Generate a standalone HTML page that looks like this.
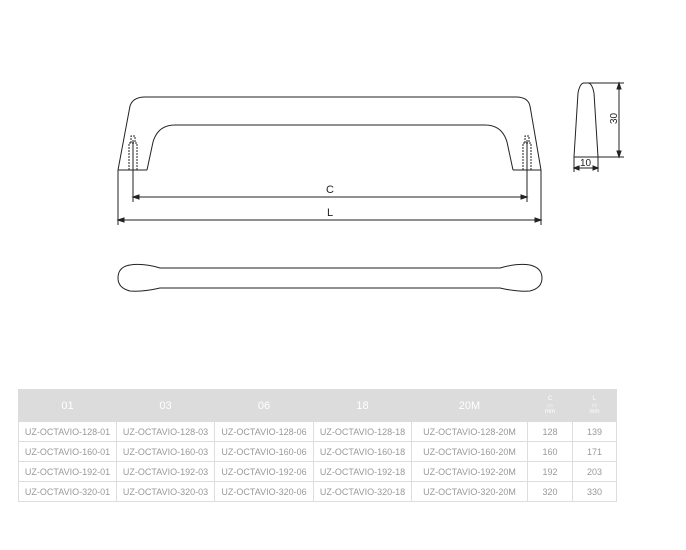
<!DOCTYPE html>
<html><head><style>
body{margin:0;width:686px;height:550px;background:#fff;position:relative;font-family:"Liberation Sans",sans-serif}
svg{position:absolute;left:0;top:0}
table{position:absolute;left:18px;top:389px;border-collapse:collapse;font-size:9px;color:#999}
td,th{border:1px solid #ddd;text-align:center;padding:0;height:19px}
th{background:#dcdcdc;color:#fff;font-weight:normal;font-size:11px;height:31px;border-color:#dcdcdc}
</style></head><body>
<svg width="686" height="550" viewBox="0 0 686 550" fill="none" stroke="#222" stroke-width="1">
<path d="M118 170 L130 106 Q133 97 145 97 L516 97 Q528 97 530 106 L541 170"/>
<path d="M147 170 L153 142 Q158 125 175 125 L485 125 Q502 125 507 142 L513 170"/>
<path d="M118 170 H147 M513 170 H541"/>
<path d="M129 170 V143 M137 170 V143 M129 143 H137 M131 143 V136 H135 V143 M523 170 V143 M531 170 V143 M523 143 H531 M525 143 V136 H529 V143" stroke-dasharray="2 1"/>
<path d="M133 140 V202 M527 140 V202 M118 170 V225 M541 170 V225"/>
<path d="M133 197 H527 M118 220 H541"/>
<path d="M133 197 l6 -2 v4z M527 197 l-6 -2 v4z M118 220 l6 -2 v4z M541 220 l-6 -2 v4z" fill="#222"/>
<text x="326" y="193" font-size="11" fill="#222" stroke="none" font-family="Liberation Sans">C</text>
<text x="327" y="216" font-size="11" fill="#222" stroke="none" font-family="Liberation Sans">L</text>
<path d="M130 265 Q143 263 160 268 L500 268 Q517 263 530 265 Q542 268 542 278 Q542 288 530 291 Q517 292 500 288 L160 288 Q143 292 130 291 Q118 288 118 278 Q118 267 130 265Z"/>
<path d="M574 157 L578 93 Q580 83 584 83 L588 83 Q592 83 594 93 L598 157 Z"/>
<path d="M588 83 H624 M598 157 H624 M619 83 V157 M574 157 V172 M598 157 V172 M574 168 H598"/>
<path d="M619 83 l-2 6 h4z M619 157 l-2 -6 h4z M574 168 l5 -2 v4z M598 168 l-5 -2 v4z" fill="#222"/>
<text x="580" y="166" font-size="10" fill="#222" stroke="none" font-family="Liberation Sans">10</text>
<text x="0" y="0" font-size="10" fill="#222" stroke="none" font-family="Liberation Sans" transform="translate(617 124) rotate(-90)">30</text>
</svg>
<table>
<tr><th style="width:97px">01</th><th style="width:97px">03</th><th style="width:98px">06</th><th style="width:97px">18</th><th style="width:115px">20M</th><th style="width:44px;font-size:6px">C<br>▭<br>mm</th><th style="width:43px;font-size:6px">L<br>▭<br>mm</th></tr>
<tr><td>UZ-OCTAVIO-128-01</td><td>UZ-OCTAVIO-128-03</td><td>UZ-OCTAVIO-128-06</td><td>UZ-OCTAVIO-128-18</td><td>UZ-OCTAVIO-128-20M</td><td>128</td><td>139</td></tr>
<tr><td>UZ-OCTAVIO-160-01</td><td>UZ-OCTAVIO-160-03</td><td>UZ-OCTAVIO-160-06</td><td>UZ-OCTAVIO-160-18</td><td>UZ-OCTAVIO-160-20M</td><td>160</td><td>171</td></tr>
<tr><td>UZ-OCTAVIO-192-01</td><td>UZ-OCTAVIO-192-03</td><td>UZ-OCTAVIO-192-06</td><td>UZ-OCTAVIO-192-18</td><td>UZ-OCTAVIO-192-20M</td><td>192</td><td>203</td></tr>
<tr><td>UZ-OCTAVIO-320-01</td><td>UZ-OCTAVIO-320-03</td><td>UZ-OCTAVIO-320-06</td><td>UZ-OCTAVIO-320-18</td><td>UZ-OCTAVIO-320-20M</td><td>320</td><td>330</td></tr>
</table>
</body></html>
